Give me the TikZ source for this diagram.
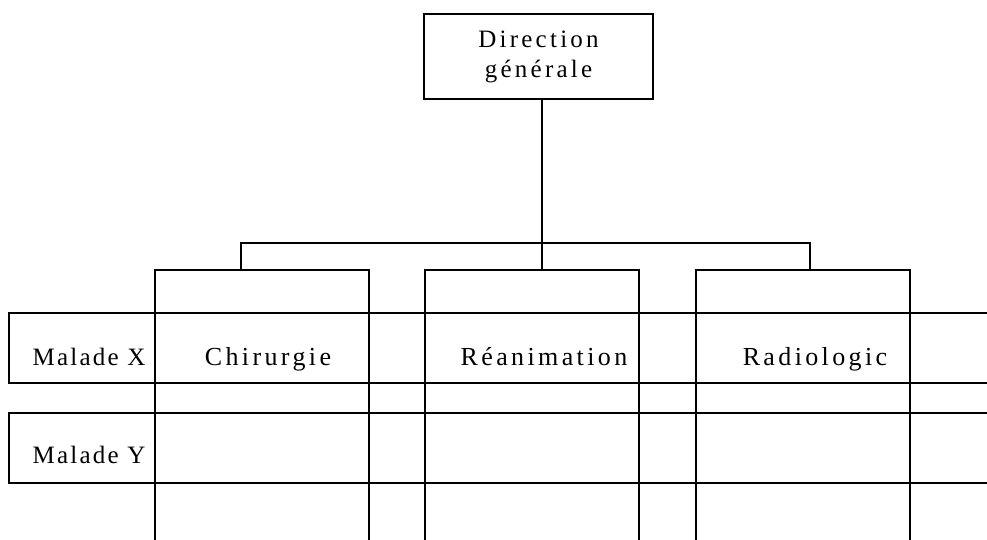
\documentclass[tikz,border=0pt]{standalone}
\usepackage{fontspec}
\setmainfont{Liberation Serif}[LetterSpace=13]
\begin{document}
\begin{tikzpicture}[x=1pt,y=-1pt,
  ln/.style={line width=2.2pt, line join=miter},
  box/.style={ln, draw, rectangle, inner sep=0pt, outer sep=0pt},
  lbl/.style={font=\fontsize{26}{30}\selectfont, anchor=base, inner sep=0pt},
  rowlbl/.style={font=\fontsize{25}{28}\selectfont\addfontfeatures{LetterSpace=9}, anchor=base, inner sep=0pt},
  ]
\useasboundingbox (0,0) rectangle (987,540);
\clip (0,0) rectangle (987,540);
% top box
\node[box, minimum width=229pt, minimum height=85pt, align=center,
      font=\fontsize{25}{30}\selectfont] (dg) at (538.5,56.5) {Direction\\générale};
% columns (open at the bottom, run off the frame)
\node[box, minimum width=214pt, minimum height=290pt] (col1) at (262,415) {};
\node[box, minimum width=214pt, minimum height=290pt] (col2) at (532,415) {};
\node[box, minimum width=214pt, minimum height=290pt] (col3) at (803,415) {};
% rows (open on the right)
\node[box, minimum width=990pt, minimum height=70pt] (rowx) at (504,348) {};
\node[box, minimum width=990pt, minimum height=70pt] (rowy) at (504,448) {};
% labels
\node[rowlbl] (mx) at (89,365) {Malade X};
\node[rowlbl] (my) at (89,463) {Malade Y};
\node[lbl] (chir) at (268,365) {Chirurgie};
\node[lbl] (rea) at (544,365) {Réanimation};
\node[lbl] (rad) at (815,365) {Radiologic};
% connectors
\coordinate (jb) at (542,243);
\coordinate (j1) at (241,270);
\coordinate (j3) at (810,270);
\draw[ln] (dg.south -| jb) -- (col2.north -| jb);
\draw[ln] (j1) |- (jb) -| (j3);
\end{tikzpicture}
\end{document}
